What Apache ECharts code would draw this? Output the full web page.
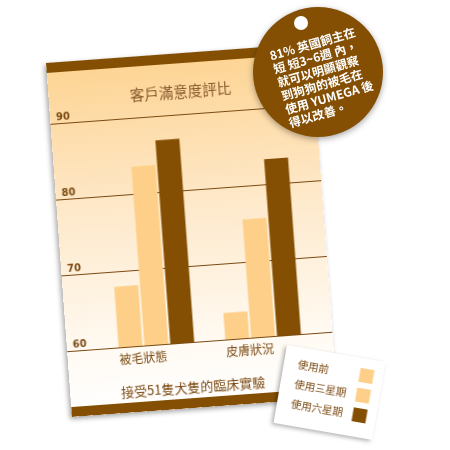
<!DOCTYPE html>
<html>
<head>
<meta charset="utf-8">
<script src="https://cdn.jsdelivr.net/npm/echarts@6/dist/echarts.min.js"></script>
<style>
body{margin:0;background:#fff;width:450px;height:450px;overflow:hidden;position:relative;}
#card{position:absolute;left:46px;top:63px;width:266px;height:355px;transform-origin:0 0;transform:rotate(-4.2deg);box-shadow:-2px 2px 5px rgba(0,0,0,0.35);}
#legendCard{position:absolute;left:287px;top:345px;width:100px;height:79px;transform-origin:0 0;transform:rotate(9.8deg);box-shadow:-2px 2px 4px rgba(0,0,0,0.3);background:#fff;}
#tag{position:absolute;left:240px;top:0;width:160px;height:160px;}
</style>
</head>
<body>
<div id="card"></div>
<div id="legendCard"></div>
<div id="tag"></div>
<script>
// 資料
var categories = ['被毛狀態', '皮膚狀況'];
var seriesNames = ['使用前', '使用三星期', '使用六星期'];
var before = [68.0, 63.5];
var threeWeeks = [83.6, 75.6];
var sixWeeks = [86.8, 83.3];
var noteLines = ['81% 英國飼主在', '短 短3~6週 內，', '就可以明顯觀察', '到狗狗的被毛在', '使用 YUMEGA 後', '得以改善。'];

var brown = '#844f03';
var light = '#fecf88';
var textBrown = '#7b4a12';
var font = 'Noto Sans CJK TC';
var colors = [light, light, brown];

// 主卡片
var cardChart = echarts.init(document.getElementById('card'));
var cardOption = {
    backgroundColor: {
        type: 'linear', x: 0, y: 0, x2: 0, y2: 1,
        colorStops: [
            {offset: 0, color: '#fdd391'},
            {offset: 0.45, color: '#feeacd'},
            {offset: 0.85, color: '#fffbf5'},
            {offset: 1, color: '#ffffff'}
        ]
    },
    textStyle: {fontFamily: font},
    grid: [
        {left: 0, right: 0, top: 61, bottom: 66},
        {left: 36, right: 16, top: 61, bottom: 66}
    ],
    xAxis: [
        {gridIndex: 0, type: 'category', data: categories, show: false},
        {
            gridIndex: 1, type: 'category', data: categories,
            axisLine: {show: false}, axisTick: {show: false},
            axisLabel: {color: textBrown, fontSize: 12, margin: 6, padding: [0, 28, 0, 0], fontFamily: font}
        }
    ],
    yAxis: [
        {
            gridIndex: 0, type: 'value', min: 60, max: 90, interval: 10,
            axisLine: {show: false}, axisTick: {show: false},
            axisLabel: {inside: true, align: 'left', verticalAlign: 'bottom', margin: 6, padding: [0, 0, 1, 0],
                color: textBrown, fontSize: 10, fontWeight: 'bold', fontFamily: 'DejaVu Sans'},
            splitLine: {show: true, showMinLine: true, showMaxLine: true, lineStyle: {color: textBrown, width: 1}}
        },
        {gridIndex: 1, type: 'value', min: 60, max: 90, interval: 10, show: false}
    ],
    series: [
        {name: seriesNames[0], type: 'bar', xAxisIndex: 1, yAxisIndex: 1, data: before, barWidth: 24, barGap: '8%', itemStyle: {color: colors[0]}},
        {name: seriesNames[1], type: 'bar', xAxisIndex: 1, yAxisIndex: 1, data: threeWeeks, barWidth: 24, barGap: '8%', itemStyle: {color: colors[1]}},
        {name: seriesNames[2], type: 'bar', xAxisIndex: 1, yAxisIndex: 1, data: sixWeeks, barWidth: 24, barGap: '8%', itemStyle: {color: colors[2]}}
    ],
    graphic: [
        {type: 'rect', shape: {x: 0, y: 0, width: 266, height: 10}, style: {fill: brown}},
        {type: 'rect', shape: {x: 0, y: 345, width: 266, height: 10}, style: {fill: brown}},
        {type: 'text', x: 132, y: 38, style: {text: '客戶滿意度評比', fill: '#86572a', fontSize: 14.5, fontFamily: font, textAlign: 'center', textVerticalAlign: 'middle'}},
        {type: 'text', x: 123, y: 334, style: {text: '接受51隻犬隻的臨床實驗', fill: textBrown, fontSize: 13, fontFamily: font, textAlign: 'center', textVerticalAlign: 'middle'}}
    ]
};
cardChart.setOption(cardOption);

// 圖例卡片
var legendChart = echarts.init(document.getElementById('legendCard'));
var legendItems = [];
for (var i = 0; i < seriesNames.length; i++) {
    legendItems.push({type: 'text', x: 14, y: 17 + 20 * i,
        style: {text: seriesNames[i], fill: textBrown, fontSize: 10.5, fontFamily: font, textAlign: 'left', textVerticalAlign: 'middle'}});
    legendItems.push({type: 'rect', shape: {x: 76.5, y: 10 + 20 * i, width: 14, height: 14}, style: {fill: colors[i]}});
}
legendChart.setOption({graphic: legendItems});

// 圓形吊牌
var tagChart = echarts.init(document.getElementById('tag'));
tagChart.setOption({
    graphic: [
        {type: 'circle', shape: {cx: 78, cy: 72, r: 65},
            style: {fill: brown, shadowBlur: 6, shadowColor: 'rgba(0,0,0,0.35)', shadowOffsetY: 2}},
        {type: 'circle', shape: {cx: 61, cy: 23, r: 7}, style: {fill: '#fff'}},
        {type: 'text', x: 30, y: 56, rotation: 16 * Math.PI / 180,
            style: {text: noteLines.join('\n'), fill: '#fff', fontSize: 12, fontWeight: 'bold', lineHeight: 14,
                fontFamily: font, textAlign: 'left', textVerticalAlign: 'top', y: -7}}
    ]
});
</script>
</body>
</html>
